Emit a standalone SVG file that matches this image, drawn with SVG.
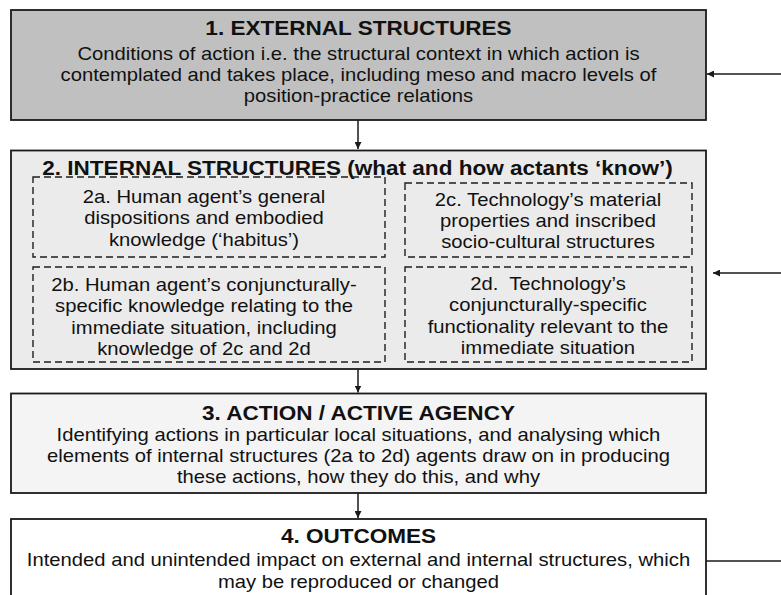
<svg xmlns="http://www.w3.org/2000/svg" width="781" height="595" viewBox="0 0 781 595">
<defs>
<style>
.box{stroke:#1a1a1a;stroke-width:1.8}
.dash{fill:none;stroke:#1e1e1e;stroke-width:1.4;stroke-dasharray:7 4}
.t{font-family:"Liberation Sans",Arial,sans-serif;font-size:19.6px;font-weight:bold;fill:#111111;text-anchor:middle}
.b{font-family:"Liberation Sans",Arial,sans-serif;font-size:17.6px;fill:#111111;text-anchor:middle}
.ln{stroke:#1a1a1a;stroke-width:1.5;fill:none}
</style>
<marker id="ah" viewBox="0 0 10 10" refX="10" refY="5" markerWidth="7" markerHeight="7" markerUnits="userSpaceOnUse" orient="auto">
<path d="M0,0 L10,5 L0,10 z" fill="#1a1a1a"/>
</marker>
</defs>
<rect width="781" height="595" fill="#ffffff"/>

<g id="node1">
<rect class="box" x="11" y="10" width="695" height="110" fill="#c0c0c0"/>
<g transform="scale(1.15 1)">
<text class="t" x="311.74" y="35">1. EXTERNAL STRUCTURES</text>
<text class="b" x="311.74" y="60">Conditions of action i.e. the structural context in which action is</text>
<text class="b" x="311.74" y="81.5">contemplated and takes place, including meso and macro levels of</text>
<text class="b" x="311.74" y="102.5">position-practice relations</text>
</g>
</g>

<g id="node2">
<rect class="box" x="11" y="150.5" width="695" height="218.5" fill="#ebebeb"/>
<g transform="scale(1.15 1)">
<text class="t" x="310.87" y="175">2. INTERNAL STRUCTURES (what and how actants ‘know’)</text>
</g>
</g>

<g id="node2a">
<rect class="dash" x="33" y="177" width="352" height="80"/>
<g transform="scale(1.15 1)">
<text class="b" x="177.4" y="203">2a. Human agent’s general</text>
<text class="b" x="177.4" y="224.5">dispositions and embodied</text>
<text class="b" x="177.4" y="246">knowledge (‘habitus’)</text>
</g>
</g>

<g id="node2b">
<rect class="dash" x="33" y="267" width="352" height="95"/>
<g transform="scale(1.15 1)">
<text class="b" x="177.4" y="291">2b. Human agent’s conjuncturally-</text>
<text class="b" x="177.4" y="312.5">specific knowledge relating to the</text>
<text class="b" x="177.4" y="334">immediate situation, including</text>
<text class="b" x="177.4" y="355">knowledge of 2c and 2d</text>
</g>
</g>

<g id="node2c">
<rect class="dash" x="405" y="183" width="287" height="74"/>
<g transform="scale(1.15 1)">
<text class="b" x="476.52" y="206">2c. Technology’s material</text>
<text class="b" x="476.52" y="227">properties and inscribed</text>
<text class="b" x="476.52" y="248">socio-cultural structures</text>
</g>
</g>

<g id="node2d">
<rect class="dash" x="405" y="267" width="287" height="95"/>
<g transform="scale(1.15 1)">
<text class="b" x="476.52" y="290" xml:space="preserve">2d.  Technology’s</text>
<text class="b" x="476.52" y="311.5">conjuncturally-specific</text>
<text class="b" x="476.52" y="333">functionality relevant to the</text>
<text class="b" x="476.52" y="354">immediate situation</text>
</g>
</g>

<g id="node3">
<rect class="box" x="11" y="393.5" width="695" height="99.5" fill="#f4f4f4"/>
<g transform="scale(1.15 1)">
<text class="t" x="311.74" y="420">3. ACTION / ACTIVE AGENCY</text>
<text class="b" x="311.74" y="441">Identifying actions in particular local situations, and analysing which</text>
<text class="b" x="311.74" y="462">elements of internal structures (2a to 2d) agents draw on in producing</text>
<text class="b" x="311.74" y="483">these actions, how they do this, and why</text>
</g>
</g>

<g id="node4">
<rect class="box" x="11" y="519" width="695" height="90" fill="#ffffff"/>
<g transform="scale(1.15 1)">
<text class="t" x="311.74" y="543">4. OUTCOMES</text>
<text class="b" x="311.74" y="566">Intended and unintended impact on external and internal structures, which</text>
<text class="b" x="311.74" y="588">may be reproduced or changed</text>
</g>
</g>

<g id="connectors">
<line class="ln" x1="358" y1="120" x2="358" y2="149" marker-end="url(#ah)"/>
<line class="ln" x1="358" y1="369" x2="358" y2="392.5" marker-end="url(#ah)"/>
<line class="ln" x1="358" y1="493" x2="358" y2="518" marker-end="url(#ah)"/>
<line class="ln" x1="781" y1="74" x2="707" y2="74" marker-end="url(#ah)"/>
<line class="ln" x1="781" y1="273" x2="713" y2="273" marker-end="url(#ah)"/>
<line class="ln" x1="706" y1="561" x2="781" y2="561"/>
</g>
</svg>
